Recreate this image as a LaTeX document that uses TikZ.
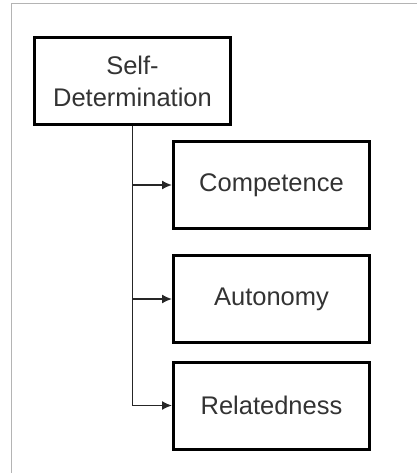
\documentclass[tikz,border=0pt]{standalone}
\usepackage{fontspec}
\setmainfont{Liberation Sans}
\usepackage{xcolor}
\usetikzlibrary{arrows.meta}

\definecolor{txtgray}{HTML}{333333}
\definecolor{framegray}{HTML}{B4B4B4}

\begin{document}
\begin{tikzpicture}[x=1pt,y=-1pt,
  box/.style={draw, line width=3pt, minimum width=196pt, minimum height=87pt,
    inner sep=0pt, text=txtgray, font=\fontsize{25.5}{32}\selectfont, align=center},
  link/.style={line width=1.6pt, draw=black!85, -{Latex[length=10pt,width=9pt]}}]
  \useasboundingbox (0,0) rectangle (417,473);
  \draw[framegray, line width=1pt] (417,4) -- (11,4) -- (11,473);

  \node[box] (S) at (132.5,81.5) {Self-\\Determination};
  \node[box] (C) at (271.5,185) {Competence};
  \node[box] (A) at (271.5,299) {Autonomy};
  \node[box] (R) at (271.5,405.5) {Relatedness};

  \draw[link] (S.south) |- (R.west);
  \draw[link] (S.south |- C.west) -- (C.west);
  \draw[link] (S.south |- A.west) -- (A.west);
\end{tikzpicture}
\end{document}
